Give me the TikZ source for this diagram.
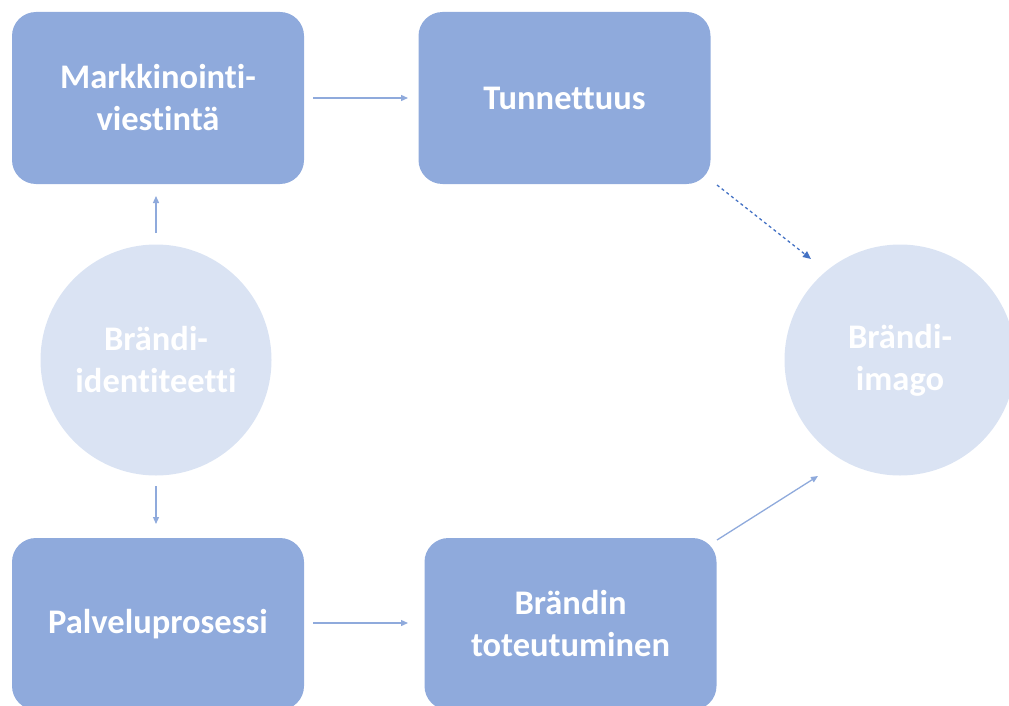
\documentclass[tikz,border=0pt]{standalone}
\usepackage{fontspec}
\setmainfont[Ligatures=NoCommon]{Carlito}
\usetikzlibrary{arrows.meta}
\definecolor{boxblue}{HTML}{8FAADC}
\definecolor{circblue}{HTML}{DAE3F3}
\definecolor{arrblue}{HTML}{8FAADC}
\definecolor{darkarr}{HTML}{4472C4}
\tikzset{
  box/.style={fill=boxblue, draw=none, rounded corners=24pt, minimum width=292pt, minimum height=172pt,
    text=white, font=\bfseries\fontsize{34.5}{42}\selectfont, align=center, inner sep=0pt},
  circ/.style={circle, fill=circblue, draw=none, minimum size=231pt, inner sep=0pt,
    text=white, font=\bfseries\fontsize{34.5}{42}\selectfont, align=center},
  conn/.style={draw=arrblue, line width=1.3pt, -{Triangle[length=7pt,width=6pt]}},
  dconn/.style={draw=darkarr, line width=1.3pt, dash pattern=on 3pt off 3pt, -{Triangle[length=8pt,width=7pt]}}
}
\begin{document}
\begin{tikzpicture}[x=1pt,y=-1pt]
\useasboundingbox (0,0) rectangle (1009,706);
\begin{scope}
\clip (0,0) rectangle (1009,706);
\node[box] (mv) at (158,98) {Markkinointi-\\viestintä};
\node[box] (tu) at (564.5,98) {Tunnettuus};
\node[box] (pp) at (158,624) {Palveluprosessi};
\node[box] (bt) at (570.5,624) {Brändin\\toteutuminen};
\node[circ] (bi) at (156,360) {Brändi-\\identiteetti};
\node[circ] (im) at (900,360) {Brändi-\\imago};
\end{scope}
\coordinate (a1s) at (313,98);
\coordinate (a1e) at (408,98);
\coordinate (a2s) at (156,233);
\coordinate (a2e) at (156,196);
\coordinate (a3s) at (156,486);
\coordinate (a3e) at (156,524);
\coordinate (a4s) at (313,623);
\coordinate (a4e) at (408,623);
\coordinate (a5s) at (717,185);
\coordinate (a5e) at (811,259);
\coordinate (a6s) at (717,540);
\coordinate (a6e) at (818,476);
\draw[conn] (a1s) -- (a1e);
\draw[conn] (a2s) -- (a2e);
\draw[conn] (a3s) -- (a3e);
\draw[conn] (a4s) -- (a4e);
\draw[dconn] (a5s) -- (a5e);
\draw[conn] (a6s) -- (a6e);
\end{tikzpicture}
\end{document}
